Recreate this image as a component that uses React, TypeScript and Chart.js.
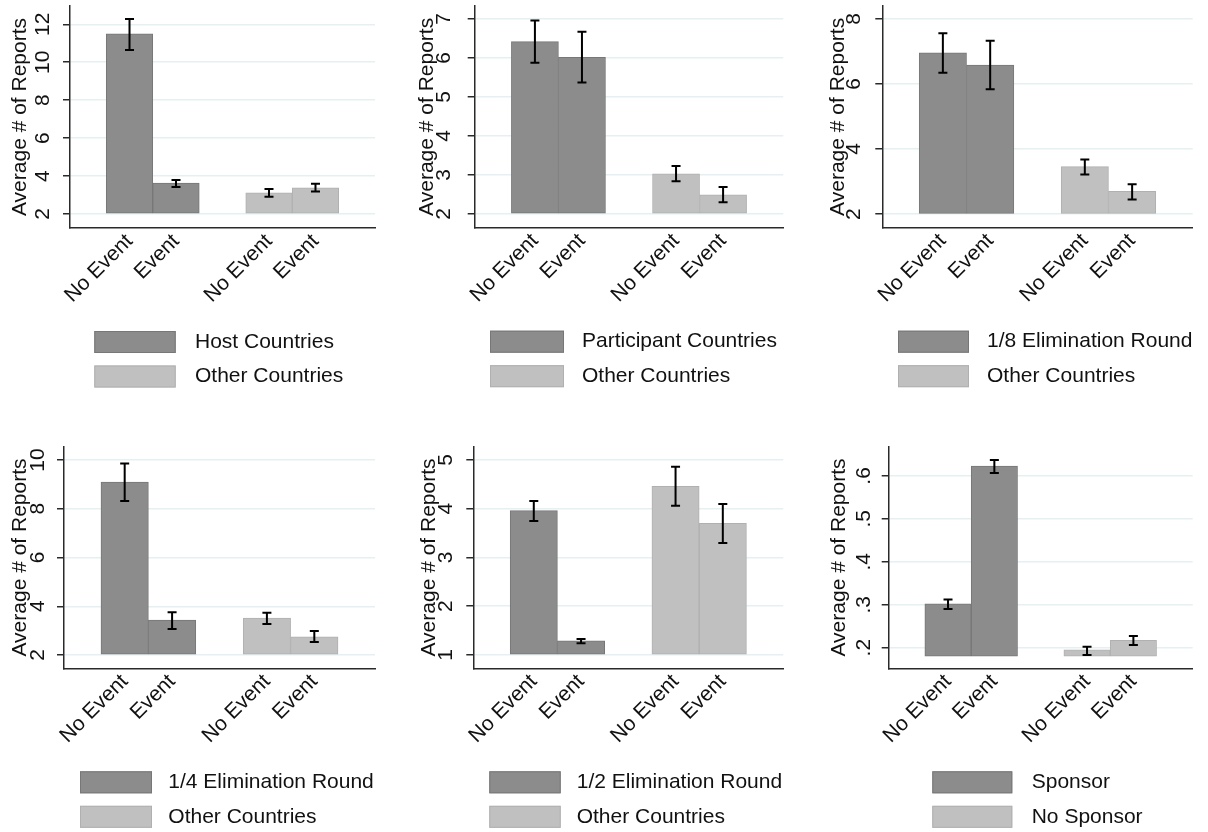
import React, { useEffect, useRef } from 'react';
import { Chart, registerables } from 'chart.js';

Chart.register(...registerables);

const FONT = '"Liberation Sans", Arial, Helvetica, sans-serif';
Chart.defaults.font.family = FONT;

// ---------- data ----------
const xCategories = ['No Event', 'Event', 'No Event', 'Event'];
const yTitle = 'Average # of Reports';

// Panel 1: Host countries
const p1Series = ['Host Countries', 'Other Countries'];
const p1Dark = [11.49, 3.63];
const p1DarkLo = [10.65, 3.42];
const p1DarkHi = [12.28, 3.79];
const p1Light = [3.12, 3.38];
const p1LightLo = [2.91, 3.19];
const p1LightHi = [3.32, 3.59];
const p1YTicks = [2, 4, 6, 8, 10, 12];
const p1YLabels = ['2', '4', '6', '8', '10', '12'];

// Panel 2: Participant countries
const p2Series = ['Participant Countries', 'Other Countries'];
const p2Dark = [6.42, 6.02];
const p2DarkLo = [5.88, 5.37];
const p2DarkHi = [6.96, 6.67];
const p2Light = [3.03, 2.49];
const p2LightLo = [2.84, 2.30];
const p2LightHi = [3.23, 2.69];
const p2YTicks = [2, 3, 4, 5, 6, 7];
const p2YLabels = ['2', '3', '4', '5', '6', '7'];

// Panel 3: 1/8 elimination round
const p3Series = ['1/8 Elimination Round', 'Other Countries'];
const p3Dark = [6.96, 6.58];
const p3DarkLo = [6.35, 5.84];
const p3DarkHi = [7.56, 7.33];
const p3Light = [3.46, 2.70];
const p3LightLo = [3.22, 2.45];
const p3LightHi = [3.68, 2.92];
const p3YTicks = [2, 4, 6, 8];
const p3YLabels = ['2', '4', '6', '8'];

// Panel 4: 1/4 elimination round
const p4Series = ['1/4 Elimination Round', 'Other Countries'];
const p4Dark = [9.09, 3.43];
const p4DarkLo = [8.32, 3.07];
const p4DarkHi = [9.86, 3.75];
const p4Light = [3.51, 2.75];
const p4LightLo = [3.27, 2.53];
const p4LightHi = [3.73, 2.98];
const p4YTicks = [2, 4, 6, 8, 10];
const p4YLabels = ['2', '4', '6', '8', '10'];

// Panel 5: 1/2 elimination round
const p5Series = ['1/2 Elimination Round', 'Other Countries'];
const p5Dark = [3.96, 1.29];
const p5DarkLo = [3.75, 1.24];
const p5DarkHi = [4.16, 1.33];
const p5Light = [4.46, 3.70];
const p5LightLo = [4.06, 3.30];
const p5LightHi = [4.86, 4.10];
const p5YTicks = [1, 2, 3, 4, 5];
const p5YLabels = ['1', '2', '3', '4', '5'];

// Panel 6: Sponsor
const p6Series = ['Sponsor', 'No Sponsor'];
const p6Dark = [0.302, 0.623];
const p6DarkLo = [0.290, 0.607];
const p6DarkHi = [0.312, 0.637];
const p6Light = [0.195, 0.217];
const p6LightLo = [0.183, 0.206];
const p6LightHi = [0.202, 0.227];
const p6YTicks = [0.2, 0.3, 0.4, 0.5, 0.6];
const p6YLabels = ['.2', '.3', '.4', '.5', '.6'];

// ---------- style ----------
const DARK_FILL = '#8c8c8c';
const DARK_EDGE = '#777777';
const LIGHT_FILL = '#c0c0c0';
const LIGHT_EDGE = '#b0b0b0';
const AXIS = '#2a2a2a';
const GRID = '#e6eff1';
const TEXT = '#111111';
const FS = 21;

type Panel = {
  series: string[];
  dark: number[]; darkLo: number[]; darkHi: number[];
  light: number[]; lightLo: number[]; lightHi: number[];
  yTicks: number[]; yLabels: string[];
  base: number; yMin: number; yMax: number;
  canvas: [number, number, number, number]; // left, top, w, h
  area: [number, number, number, number];   // left, top, right, bottom (page)
  titleX: number; tickPad: number;
  legBoxX: number; legBoxW: number; legTextX: number;
};

const panels: Panel[] = [
  {
    series: p1Series, dark: p1Dark, darkLo: p1DarkLo, darkHi: p1DarkHi,
    light: p1Light, lightLo: p1LightLo, lightHi: p1LightHi,
    yTicks: p1YTicks, yLabels: p1YLabels, base: 2, yMin: 1.263, yMax: 12.963,
    canvas: [0, 0, 402, 416], area: [70, 6, 375, 228],
    titleX: 20, tickPad: 7.8, legBoxX: 94.3, legBoxW: 81.4, legTextX: 195,
  },
  {
    series: p2Series, dark: p2Dark, darkLo: p2DarkLo, darkHi: p2DarkHi,
    light: p2Light, lightLo: p2LightLo, lightHi: p2LightHi,
    yTicks: p2YTicks, yLabels: p2YLabels, base: 2, yMin: 1.649, yMax: 7.333,
    canvas: [402, 0, 403, 416], area: [474.7, 6, 783.3, 227.7],
    titleX: 25.5, tickPad: 17.5, legBoxX: 88, legBoxW: 74, legTextX: 180,
  },
  {
    series: p3Series, dark: p3Dark, darkLo: p3DarkLo, darkHi: p3DarkHi,
    light: p3Light, lightLo: p3LightLo, lightHi: p3LightHi,
    yTicks: p3YTicks, yLabels: p3YLabels, base: 2, yMin: 1.58, yMax: 8.4,
    canvas: [805, 0, 403, 416], area: [882.3, 6, 1192.7, 227.7],
    titleX: 33, tickPad: 15, legBoxX: 93, legBoxW: 71, legTextX: 182,
  },
  {
    series: p4Series, dark: p4Dark, darkLo: p4DarkLo, darkHi: p4DarkHi,
    light: p4Light, lightLo: p4LightLo, lightHi: p4LightHi,
    yTicks: p4YTicks, yLabels: p4YLabels, base: 2, yMin: 1.455, yMax: 10.545,
    canvas: [0, 416, 402, 416], area: [64, 446.7, 375, 668.3],
    titleX: 20, tickPad: 7, legBoxX: 80, legBoxW: 72, legTextX: 168.3,
  },
  {
    series: p5Series, dark: p5Dark, darkLo: p5DarkLo, darkHi: p5DarkHi,
    light: p5Light, lightLo: p5LightLo, lightHi: p5LightHi,
    yTicks: p5YTicks, yLabels: p5YLabels, base: 1, yMin: 0.727, yMax: 5.273,
    canvas: [402, 416, 403, 416], area: [473.3, 446.7, 783.3, 668.3],
    titleX: 27, tickPad: 14, legBoxX: 87.3, legBoxW: 71.4, legTextX: 174.7,
  },
  {
    series: p6Series, dark: p6Dark, darkLo: p6DarkLo, darkHi: p6DarkHi,
    light: p6Light, lightLo: p6LightLo, lightHi: p6LightHi,
    yTicks: p6YTicks, yLabels: p6YLabels, base: 0.18, yMin: 0.152, yMax: 0.668,
    canvas: [805, 416, 403, 416], area: [888.7, 446.7, 1192.7, 668.3],
    titleX: 34, tickPad: 9, legBoxX: 127.3, legBoxW: 80, legTextX: 226.7,
  },
];

// bar slots on the index axis: two groups of two, one empty slot between groups
const slotOf = (i: number) => (i < 2 ? i + 1 : i + 2);

const errorBarPlugin = {
  id: 'errorBars',
  afterDatasetsDraw(chart: any) {
    const { ctx } = chart;
    const y = chart.scales.y;
    chart.data.datasets.forEach((ds: any, di: number) => {
      const meta = chart.getDatasetMeta(di);
      meta.data.forEach((el: any, i: number) => {
        const x = el.x;
        const yl = y.getPixelForValue(ds.errLow[i]);
        const yh = y.getPixelForValue(ds.errHigh[i]);
        ctx.save();
        ctx.strokeStyle = '#000';
        ctx.lineWidth = 2;
        ctx.beginPath();
        ctx.moveTo(x, yl); ctx.lineTo(x, yh);
        ctx.moveTo(x - 4.5, yl); ctx.lineTo(x + 4.5, yl);
        ctx.moveTo(x - 4.5, yh); ctx.lineTo(x + 4.5, yh);
        ctx.stroke();
        ctx.restore();
      });
    });
  },
};

function makeLegendPlugin(p: Panel) {
  return {
    id: 'stataLegend',
    afterDraw(chart: any) {
      const { ctx, chartArea } = chart;
      const rows = [103, 137.5];
      const boxH = 22;
      chart.data.datasets.forEach((ds: any, i: number) => {
        const top = chartArea.bottom + rows[i];
        ctx.save();
        ctx.fillStyle = ds.backgroundColor;
        ctx.fillRect(p.legBoxX, top, p.legBoxW, boxH);
        ctx.strokeStyle = ds.borderColor;
        ctx.lineWidth = 1;
        ctx.strokeRect(p.legBoxX + 0.5, top + 0.5, p.legBoxW - 1, boxH - 1);
        ctx.fillStyle = TEXT;
        ctx.font = `${FS}px ${FONT}`;
        ctx.textAlign = 'left';
        ctx.textBaseline = 'middle';
        ctx.fillText(ds.label, p.legTextX, top + boxH / 2);
        ctx.restore();
      });
    },
  };
}

function PanelChart({ p }: { p: Panel }) {
  const ref = useRef<HTMLCanvasElement | null>(null);
  useEffect(() => {
    if (!ref.current) return;
    const [cl, ct, cw, ch] = p.canvas;
    const [al, at, ar, ab] = p.area;
    const yWidth = al - cl;
    const xHeight = ct + ch - ab;
    const chart = new Chart(ref.current, {
      type: 'bar',
      data: {
        datasets: [
          {
            label: p.series[0],
            data: p.dark.map((v, i) => ({ x: slotOf(i), y: v })),
            errLow: p.darkLo, errHigh: p.darkHi,
            backgroundColor: DARK_FILL, borderColor: DARK_EDGE,
          } as any,
          {
            label: p.series[1],
            data: p.light.map((v, i) => ({ x: slotOf(i + 2), y: v })),
            errLow: p.lightLo, errHigh: p.lightHi,
            backgroundColor: LIGHT_FILL, borderColor: LIGHT_EDGE,
          } as any,
        ],
      },
      options: {
        responsive: false,
        animation: false,
        devicePixelRatio: 1,
        layout: { padding: { left: 0, top: at - ct, right: cl + cw - ar, bottom: 0 } },
        datasets: {
          bar: {
            grouped: false, base: p.base, borderWidth: 1, borderSkipped: false,
            barPercentage: 1, categoryPercentage: 1,
          } as any,
        },
        plugins: { legend: { display: false }, tooltip: { enabled: false } },
        scales: {
          x: {
            type: 'linear', min: -0.28, max: 6.28, offset: false,
            afterBuildTicks: (s: any) => { s.ticks = [1, 2, 4, 5].map((v) => ({ value: v })); },
            afterFit: (s: any) => {
              s.height = xHeight;
              s.paddingLeft = 0; s.paddingRight = 0;
            },
            ticks: {
              autoSkip: false, minRotation: 45, maxRotation: 45, padding: 1,
              color: TEXT, font: { size: FS },
              callback: (_v: any, idx: number) => xCategories[idx],
            },
            grid: { display: false, drawTicks: false },
            border: { display: true, color: AXIS, width: 1.5 },
          },
          y: {
            type: 'linear', min: p.yMin, max: p.yMax,
            afterBuildTicks: (s: any) => { s.ticks = p.yTicks.map((v) => ({ value: v })); },
            afterFit: (s: any) => {
              s.width = yWidth;
              s.paddingTop = 0; s.paddingBottom = 0;
            },
            ticks: {
              autoSkip: false, minRotation: 90, maxRotation: 90, crossAlign: 'center',
              padding: p.tickPad, color: TEXT, font: { size: FS },
              callback: (_v: any, idx: number) => p.yLabels[idx],
            },
            grid: { color: GRID, lineWidth: 1.5, tickColor: AXIS, tickLength: 7, drawTicks: true },
            border: { display: true, color: AXIS, width: 1.5 },
            title: {
              display: true, text: yTitle, color: TEXT, font: { size: FS },
              padding: { top: p.titleX - FS * 0.6, bottom: 0 },
            },
          },
        },
      } as any,
      plugins: [errorBarPlugin, makeLegendPlugin(p)],
    });
    return () => chart.destroy();
  }, [p]);
  const [cl, ct, cw, ch] = p.canvas;
  return (
    <canvas
      ref={ref}
      width={cw}
      height={ch}
      style={{ position: 'absolute', left: cl, top: ct, width: cw, height: ch, display: 'block' }}
    />
  );
}

export default function App() {
  return (
    <div style={{ position: 'absolute', left: 0, top: 0, width: 1208, height: 832, background: '#ffffff', overflow: 'hidden' }}>
      {panels.map((p, i) => (
        <PanelChart key={i} p={p} />
      ))}
    </div>
  );
}
